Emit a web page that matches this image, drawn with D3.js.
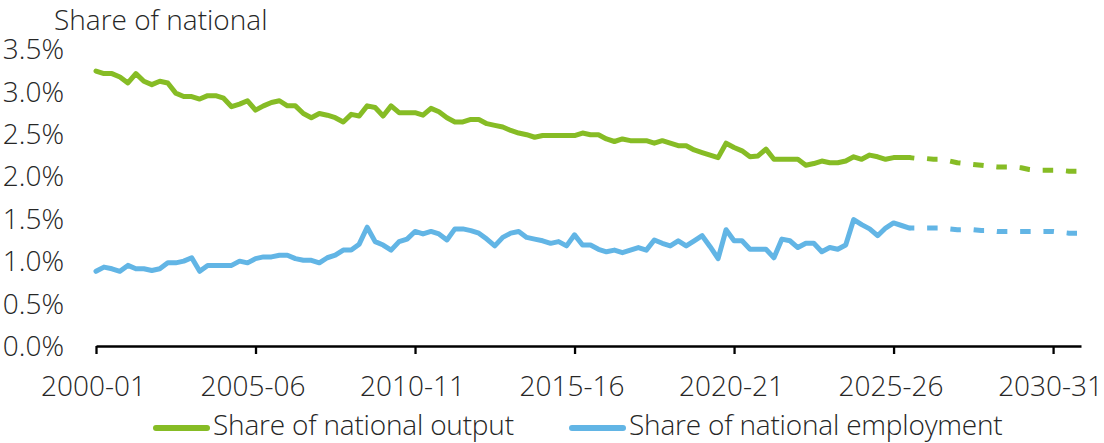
<!DOCTYPE html>
<html><head><meta charset="utf-8">
<script src="https://cdn.jsdelivr.net/npm/d3@7"></script>
<style>
html,body{margin:0;padding:0;background:#fff;}
text{font-family:"Open Sans","Noto Sans",sans-serif;fill:#262626;}
</style></head>
<body><svg id="c" width="1104" height="443"></svg>
<script>
// Quarterly series, index 0 = 2000-01 Q1
const outputActual = [3.24,3.21,3.21,3.17,3.10,3.21,3.12,3.08,3.12,3.10,
 2.98,2.94,2.94,2.91,2.95,2.95,2.92,2.82,2.85,2.89,
 2.78,2.83,2.87,2.89,2.83,2.83,2.74,2.69,2.74,2.72,
 2.69,2.64,2.73,2.71,2.83,2.81,2.71,2.83,2.75,2.75,
 2.75,2.72,2.80,2.76,2.69,2.64,2.64,2.67,2.67,2.62,
 2.60,2.58,2.54,2.51,2.49,2.46,2.48,2.48,2.48,2.48,
 2.48,2.51,2.49,2.49,2.44,2.41,2.44,2.42,2.42,2.42,
 2.39,2.42,2.39,2.36,2.36,2.31,2.28,2.25,2.22,2.39,
 2.34,2.30,2.23,2.24,2.32,2.20,2.20,2.20,2.20,2.13,
 2.15,2.18,2.16,2.16,2.18,2.23,2.20,2.25,2.23,2.20,
 2.22,2.22,2.22];
const employmentActual = [0.88,0.93,0.91,0.88,0.95,0.91,0.91,0.89,0.91,0.98,
 0.98,1.00,1.04,0.88,0.95,0.95,0.95,0.95,1.00,0.98,
 1.03,1.05,1.05,1.07,1.07,1.03,1.01,1.01,0.98,1.04,
 1.07,1.13,1.13,1.20,1.40,1.23,1.19,1.13,1.23,1.26,
 1.35,1.32,1.35,1.32,1.25,1.38,1.38,1.36,1.33,1.26,
 1.18,1.28,1.33,1.35,1.28,1.26,1.24,1.21,1.23,1.18,
 1.31,1.19,1.19,1.14,1.11,1.13,1.10,1.13,1.16,1.13,
 1.25,1.21,1.18,1.24,1.18,1.24,1.30,1.17,1.03,1.37,
 1.24,1.24,1.14,1.14,1.14,1.04,1.26,1.24,1.16,1.21,
 1.21,1.11,1.16,1.14,1.19,1.49,1.43,1.38,1.30,1.39,
 1.45,1.42,1.39];
// Projections start at quarter index 102
const projectionStart = 102;
const outputProjection = [2.22,2.21,2.21,2.20,2.20,2.18,2.16,2.15,2.14,2.13,2.12,2.11,2.11,2.11,2.10,2.08,2.07,2.07,2.07,2.07,2.06,2.06];
const employmentProjection = [1.39,1.39,1.39,1.39,1.39,1.38,1.37,1.37,1.37,1.36,1.36,1.35,1.35,1.35,1.35,1.35,1.35,1.35,1.35,1.34,1.33,1.33];
const yTicks = [0,0.5,1.0,1.5,2.0,2.5,3.0,3.5];
const xTickYears = [2000,2005,2010,2015,2020,2025,2030];
const seriesNames = ["Share of national output","Share of national employment"];
const colors = ["#86BC25","#62B5E5"];
const yTitle = "Share of national";

const FS = "28px";
const svg = d3.select("#c");
const x = d3.scaleLinear().domain([0,123.5]).range([96,1081]);
const y = d3.scaleLinear().domain([0,3.5]).range([346,49]);
const fy = q => 2000 + q/4;
const label = yr => yr + "-" + String((yr+1)%100).padStart(2,"0");

// Y labels
svg.append("g").selectAll("text").data(yTicks).join("text")
  .attr("x",64).attr("y",d=>y(d)).attr("dy","0.36em")
  .attr("text-anchor","end").style("font-size",FS).style("font-weight",300)
  .text(d=>d3.format(".1f")(d)+"%");

svg.append("text").attr("x",54).attr("y",30)
  .style("font-size",FS).style("font-weight",300).text(yTitle);

// X axis
const xAxis = d3.axisBottom(x)
  .tickValues(xTickYears.map(yr=>(yr-2000)*4))
  .tickFormat(q=>label(fy(q)))
  .tickSize(8).tickSizeOuter(0).tickPadding(22);
const gx = svg.append("g").attr("transform","translate(0,346)").call(xAxis);
gx.select(".domain").attr("stroke","#000").attr("stroke-width",2.3);
gx.selectAll(".tick line").attr("stroke","#000").attr("stroke-width",2.3);
gx.selectAll(".tick text").style("font-size",FS).style("font-weight",300)
  .style("font-family",'"Open Sans","Noto Sans",sans-serif').attr("fill","#262626")
  .attr("dx","-3");

const line = d3.line().x(d=>x(d[0])).y(d=>y(d[1])).curve(d3.curveLinear);
const actuals = [outputActual, employmentActual];
const projs = [outputProjection, employmentProjection];
actuals.forEach((arr,k)=>{
  svg.append("path").datum(arr.map((v,i)=>[i,v]))
    .attr("d",line).attr("fill","none").attr("stroke",colors[k])
    .attr("stroke-width",5).attr("stroke-linejoin","round").attr("stroke-linecap","round");
  svg.append("path").datum(projs[k].map((v,i)=>[projectionStart+i,v]))
    .attr("d",line).attr("fill","none").attr("stroke",colors[k])
    .attr("stroke-width",5).attr("stroke-dasharray","10.5,12.8").attr("stroke-dashoffset",5.7)
    .attr("stroke-linejoin","round");
});

// Legend
const legX = [154,570];
seriesNames.forEach((n,k)=>{
  const g = svg.append("g");
  g.append("line").attr("x1",legX[k]+2).attr("x2",legX[k]+53).attr("y1",428).attr("y2",428)
    .attr("stroke",colors[k]).attr("stroke-width",6).attr("stroke-linecap","round");
  g.append("text").attr("x",legX[k]+59).attr("y",434.5)
    .style("font-size",FS).style("font-weight",300).style("letter-spacing","-0.2px").text(n);
});
</script></body></html>
